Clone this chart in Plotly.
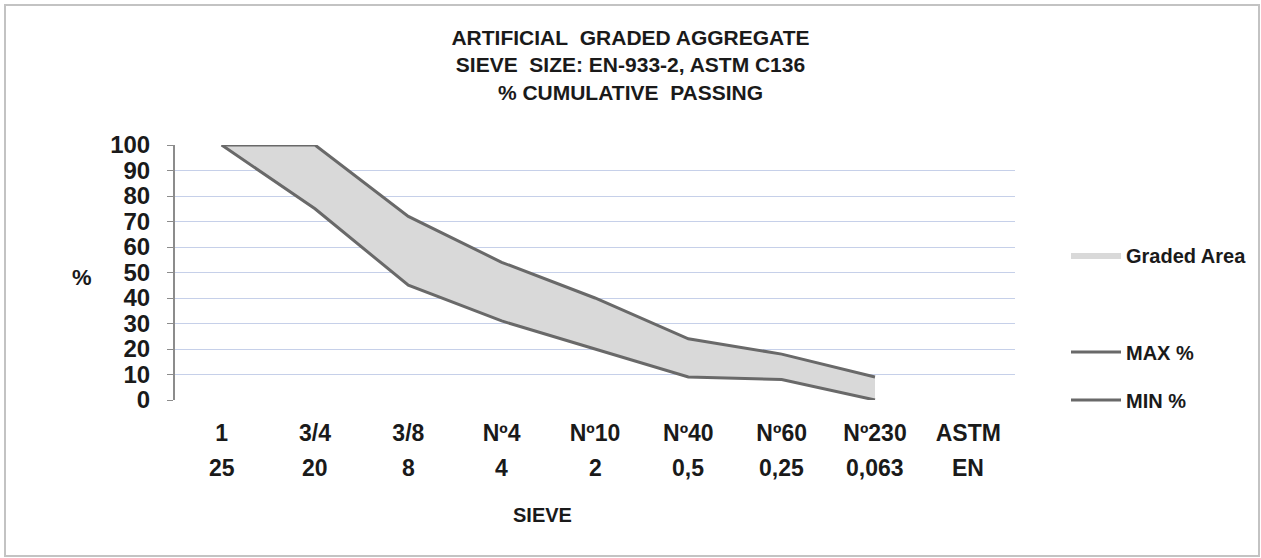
import plotly.graph_objects as go

# sieve labels (ASTM row on the axis, EN row underneath)
sieve_astm = ["1", "3/4", "3/8", "Nº4", "Nº10", "Nº40", "Nº60", "Nº230", "ASTM"]
sieve_en = ["25", "20", "8", "4", "2", "0,5", "0,25", "0,063", "EN"]

# % cumulative passing limits
max_pct = [100, 100, 72, 54, 40, 24, 18, 9]
min_pct = [100, 75, 45, 31, 20, 9, 8, 0]

y_ticks = list(range(0, 101, 10))

title_lines = ["ARTIFICIAL\u00a0 GRADED AGGREGATE",
               "SIEVE\u00a0 SIZE: EN-933-2, ASTM C136",
               "% CUMULATIVE\u00a0 PASSING"]

LINE = "#696969"
FILL = "#d9d9d9"
GRID = "#c6d0e9"
FONT = "Liberation Sans"
TXT = "#1a1a1a"

W, H = 1261, 558
X0, X1, Y0, Y1 = 175, 1015, 145, 400          # plot area in screen pixels
L, T, R, B = X0, Y0, W - X1, H - Y1
pw, ph = X1 - X0, Y1 - Y0


def px(x):
    return (x - X0) / pw


def py(y):
    return (Y1 - y) / ph


x_idx = list(range(len(max_pct)))

fig = go.Figure()

# graded band between the limits
fig.add_trace(go.Scatter(x=x_idx, y=min_pct, mode="lines", line=dict(width=0),
                         showlegend=False, hoverinfo="skip"))
fig.add_trace(go.Scatter(x=x_idx, y=max_pct, mode="lines", line=dict(width=0),
                         fill="tonexty", fillcolor=FILL, name="Graded Area",
                         legend="legend"))

# limit lines
fig.add_trace(go.Scatter(x=x_idx, y=max_pct, mode="lines",
                         line=dict(color=LINE, width=3), name="MAX %", legend="legend2"))
fig.add_trace(go.Scatter(x=x_idx, y=min_pct, mode="lines",
                         line=dict(color=LINE, width=3), name="MIN %", legend="legend3"))

# EN sizes under the ASTM labels
for i, e in enumerate(sieve_en):
    fig.add_annotation(x=i, y=py(468), xref="x", yref="paper", text=e,
                       showarrow=False, xanchor="center", yanchor="middle",
                       font=dict(family=FONT, size=23, color=TXT, weight="bold"))

fig.add_annotation(x=px(542), y=py(515), xref="paper", yref="paper",
                   text="SIEVE", showarrow=False, xanchor="center", yanchor="middle",
                   font=dict(family=FONT, size=20, color=TXT, weight="bold"))
fig.add_annotation(x=px(82), y=py(277), xref="paper", yref="paper",
                   text="%", showarrow=False, xanchor="center", yanchor="middle",
                   font=dict(family=FONT, size=22, color=TXT, weight="bold"))

# outer frame
fig.add_shape(type="rect", xref="paper", yref="paper",
              x0=px(5), x1=px(1259), y0=py(556), y1=py(5),
              line=dict(color="#c3c3c3", width=2))

legend_font = dict(family=FONT, size=20, color=TXT, weight="bold")
leg = dict(x=px(1066), yanchor="middle", font=legend_font,
           bgcolor="rgba(0,0,0,0)", itemwidth=50)

fig.update_layout(
    width=W, height=H,
    margin=dict(l=L, r=R, t=T, b=B, autoexpand=False),
    paper_bgcolor="white", plot_bgcolor="white",
    title=dict(
        text="<br>".join(title_lines),
        x=0.5, xref="container", xanchor="center",
        y=1 - 45 / H, yref="container", yanchor="middle",
        font=dict(family=FONT, size=21, color=TXT, weight="bold"),
    ),
    xaxis=dict(
        tickmode="array", tickvals=list(range(len(sieve_astm))), ticktext=sieve_astm,
        range=[-0.5, len(sieve_astm) - 0.5],
        showgrid=False, zeroline=False, showline=False, ticks="",
        ticklabelstandoff=17,
        tickfont=dict(family=FONT, size=23, color=TXT, weight="bold"),
    ),
    yaxis=dict(
        range=[0, 100], tickvals=y_ticks,
        showgrid=True, gridcolor=GRID, gridwidth=1, zeroline=False,
        showline=True, linecolor="#8c8c8c", linewidth=2,
        ticks="outside", ticklen=6, tickcolor="#8c8c8c",
        ticklabelstandoff=12,
        tickfont=dict(family=FONT, size=24, color=TXT, weight="bold"),
    ),
    legend=dict(leg, y=py(255)),
    legend2=dict(leg, y=py(352)),
    legend3=dict(leg, y=py(400)),
)

# drop the default page margin so the figure sits at the window's corner
fig.write_html("out.html", config={"displayModeBar": False},
               post_script="document.body.style.margin='0';")
